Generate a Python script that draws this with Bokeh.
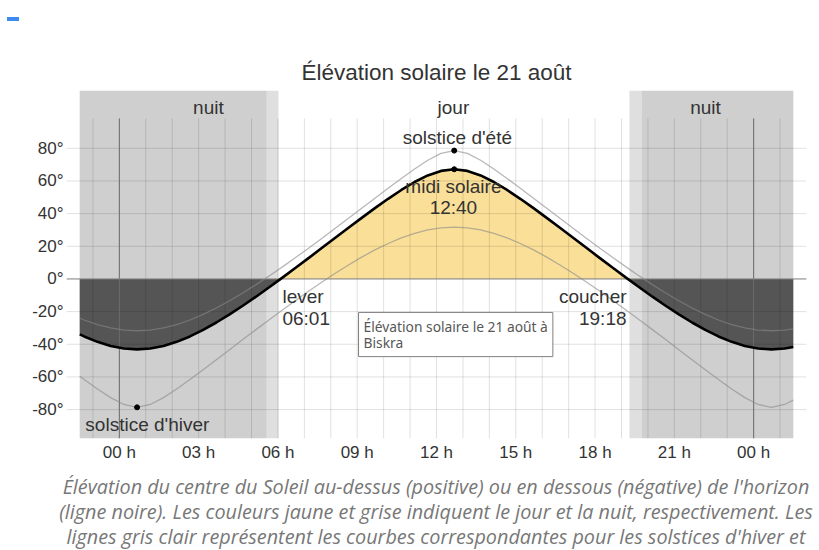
from bokeh.plotting import figure
from bokeh.layouts import column
from bokeh.models import Range1d, FixedTicker, PrintfTickFormatter, Label, Div
from bokeh.embed import file_html
from bokeh.resources import INLINE
import numpy as np

# ---- data ----
hours = [-1.5, -1.33, -0.83, -0.33, 0.17, 0.67, 1.17, 1.67, 2.17, 2.67, 3.17, 3.67,
         4.17, 4.67, 5.17, 5.67, 6.17, 6.67, 7.17, 7.67, 8.17, 8.67, 9.17, 9.67,
         10.17, 10.67, 11.17, 11.67, 12.17, 12.67, 13.17, 13.67, 14.17, 14.67, 15.17,
         15.67, 16.17, 16.67, 17.17, 17.67, 18.17, 18.67, 19.17, 19.67, 20.17, 20.67,
         21.17, 21.67, 22.17, 22.67, 23.17, 23.67, 24.17, 24.67, 25.17, 25.5]

elev_aug21 = [-33.93, -35.20, -38.52, -41.04, -42.61, -43.15, -42.61, -41.04, -38.52, -35.20,
              -31.20, -26.67, -21.71, -16.41, -10.86, -5.10, 0.80, 6.82, 12.92, 19.06, 25.21,
              31.34, 37.41, 43.35, 49.08, 54.49, 59.37, 63.40, 66.16, 67.17, 66.16, 63.40,
              59.37, 54.49, 49.08, 43.35, 37.41, 31.34, 25.21, 19.06, 12.92, 6.82, 0.80,
              -5.10, -10.86, -16.41, -21.71, -26.67, -31.20, -35.20, -38.52, -41.04, -42.61,
              -43.15, -42.61, -41.68]

elev_summer = [-24.06, -25.14, -27.93, -30.00, -31.28, -31.71, -31.28, -30.00, -27.93, -25.14,
               -21.72, -17.77, -13.36, -8.58, -3.49, 1.86, 7.41, 13.14, 19.00, 24.97, 31.03,
               37.14, 43.29, 49.44, 55.56, 61.57, 67.37, 72.68, 76.87, 78.60, 76.87, 72.68,
               67.37, 61.57, 55.56, 49.44, 43.29, 37.14, 31.03, 24.97, 19.00, 13.14, 7.41,
               1.86, -3.49, -8.58, -13.36, -17.77, -21.72, -25.14, -27.93, -30.00, -31.28,
               -31.71, -31.28, -30.52]

elev_winter = [-59.58, -61.57, -67.37, -72.68, -76.87, -78.60, -76.87, -72.68, -67.37, -61.57,
               -55.56, -49.44, -43.29, -37.14, -31.03, -24.97, -19.00, -13.14, -7.41, -1.86,
               3.49, 8.58, 13.36, 17.77, 21.72, 25.14, 27.93, 30.00, 31.28, 31.71, 31.28,
               30.00, 27.93, 25.14, 21.72, 17.77, 13.36, 8.58, 3.49, -1.86, -7.41, -13.14,
               -19.00, -24.97, -31.03, -37.14, -43.29, -49.44, -55.56, -61.57, -67.37, -72.68,
               -76.87, -78.60, -76.87, -74.25]

night_start = [-1.5, 19.75]
night_end = [5.58, 25.5]
twilight_start = [5.58, 19.30]
twilight_end = [6.02, 19.75]

x_ticks = [0, 3, 6, 9, 12, 15, 18, 21, 24]
x_tick_labels = ["00 h", "03 h", "06 h", "09 h", "12 h", "15 h", "18 h", "21 h", "00 h"]
y_ticks = [-80, -60, -40, -20, 0, 20, 40, 60, 80]
hour_grid = list(range(-1, 26))
midnights = [0, 24]

title_text = "Élévation solaire le 21 août"
caption_lines = [
    "Élévation du centre du Soleil au-dessus (positive) ou en dessous (négative) de l'horizon",
    "(ligne noire). Les couleurs jaune et grise indiquent le jour et la nuit, respectivement. Les",
    "lignes gris clair représentent les courbes correspondantes pour les solstices d'hiver et",
]

# ---- layout constants ----
X_MIN, X_MAX = -2, 26
Y_MIN, Y_MAX = -97.7, 115.4
GRID_TOP = 98.3
FONT = "Liberation Sans"
TXT = "#333333"

p = figure(width=819, height=438, output_backend="svg", toolbar_location=None,
           x_range=Range1d(X_MIN, X_MAX), y_range=Range1d(Y_MIN, Y_MAX),
           min_border_left=66, min_border_right=13, min_border_top=60, min_border_bottom=30,
           outline_line_color=None, background_fill_color="white", border_fill_color="white",
           margin=0)
p.xgrid.visible = False
p.ygrid.visible = False

# title
p.title.text = title_text
p.title.align = "center"
p.title.text_font = FONT
p.title.text_font_size = "22.5px"
p.title.text_font_style = "normal"
p.title.text_color = TXT
p.title.standoff = 11

# night / twilight bands
p.quad(left=night_start, right=night_end, bottom=Y_MIN, top=Y_MAX,
       fill_color="#cfcfcf", line_color=None)
p.quad(left=twilight_start, right=twilight_end, bottom=Y_MIN, top=Y_MAX,
       fill_color="#dfdfdf", line_color=None)

# fills between curve and horizon
aug = np.array(elev_aug21)
p.varea(x=hours, y1=np.minimum(aug, 0), y2=0, fill_color="#555555")
p.varea(x=hours, y1=0, y2=np.maximum(aug, 0), fill_color="#fadf98")

# grid
p.segment(x0=hour_grid, y0=Y_MIN, x1=hour_grid, y1=GRID_TOP,
          line_color="black", line_alpha=0.12, line_width=1)
p.segment(x0=X_MIN, y0=y_ticks, x1=X_MAX, y1=y_ticks,
          line_color="black", line_alpha=0.12, line_width=1)
p.segment(x0=midnights, y0=Y_MIN, x1=midnights, y1=GRID_TOP,
          line_color="#6e6e6e", line_width=1)
p.segment(x0=X_MIN, y0=[0], x1=X_MAX, y1=[0], line_color="#8a8a8a", line_width=1)

# solstice curves and the day curve
p.line(hours, elev_summer, line_color="#888888", line_alpha=0.6, line_width=1.3)
p.line(hours, elev_winter, line_color="#888888", line_alpha=0.6, line_width=1.3)
p.line(hours, elev_aug21, line_color="black", line_width=2.6)

i_s = int(np.argmax(elev_summer))
i_a = int(np.argmax(elev_aug21))
i_w = int(np.argmin(elev_winter))
p.scatter([hours[i_s], hours[i_a], hours[i_w]],
          [elev_summer[i_s], elev_aug21[i_a], elev_winter[i_w]],
          size=5, color="black")

def lab(x, y, text, size="19px", align="center", color=TXT, font=FONT):
    p.add_layout(Label(x=x, y=y, text=text, text_font=font, text_font_size=size,
                       text_color=color, text_align=align, text_baseline="middle"))

lab(3.37, 105.0, "nuit")
lab(12.64, 105.0, "jour")
lab(22.18, 105.0, "nuit")
lab(12.79, 86.6, "solstice d'été")
lab(12.64, 56.6, "midi solaire")
lab(12.64, 43.7, "12:40")
lab(6.17, -10.7, "lever", align="left")
lab(6.17, -24.2, "06:01", align="left")
lab(19.19, -10.7, "coucher", align="right")
lab(19.19, -24.2, "19:18", align="right")
lab(1.06, -89.1, "solstice d'hiver")

# tooltip-like box (with a soft shadow)
tip = "Élévation solaire le 21 août à\nBiskra"
p.add_layout(Label(x=9.05, y=-20.5, text=tip, x_offset=3, y_offset=-3,
                   text_font="Noto Sans", text_font_size="13.8px", text_alpha=0,
                   text_align="left", text_baseline="top", text_line_height=0.8,
                   background_fill_color="black", background_fill_alpha=0.12, padding=5))
p.add_layout(Label(x=9.05, y=-20.5, text=tip,
                   text_font="Noto Sans", text_font_size="13.8px", text_color="#575757",
                   text_align="left", text_baseline="top", text_line_height=0.8,
                   background_fill_color="white", border_line_color="#808080",
                   border_line_width=1, padding=5))

# axes
p.xaxis.ticker = FixedTicker(ticks=x_ticks)
p.xaxis.major_label_overrides = {t: l for t, l in zip(x_ticks, x_tick_labels)}
p.yaxis.ticker = FixedTicker(ticks=y_ticks)
p.yaxis.formatter = PrintfTickFormatter(format="%d°")
for ax in (p.xaxis, p.yaxis):
    ax.axis_line_color = None
    ax.major_tick_line_color = None
    ax.minor_tick_line_color = None
    ax.major_tick_out = 0
    ax.major_tick_in = 0
    ax.major_label_text_font = FONT
    ax.major_label_text_font_size = "17px"
    ax.major_label_text_color = TXT
p.xaxis.major_label_standoff = 4
p.yaxis.major_label_standoff = 3

# small blue mark at the top-left of the page
top_div = Div(width=819, height=30, margin=0,
              text='<div style="position:absolute;left:7px;top:17px;width:12px;height:4px;'
                   'background:#3d8bef"></div>')

# caption below the chart
cap_html = ('<div style="position:absolute;left:436px;top:6px;transform:translateX(-50%);'
            'white-space:nowrap;text-align:center;font-family:\'Open Sans\',sans-serif;'
            'font-style:italic;font-size:19.8px;line-height:25px;color:#777777">'
            + "<br>".join(caption_lines) + '</div>')
cap_div = Div(width=819, height=82, margin=0, text=cap_html)

layout = column(top_div, p, cap_div, spacing=0)

open("out.html", "w").write(file_html(layout, INLINE))
